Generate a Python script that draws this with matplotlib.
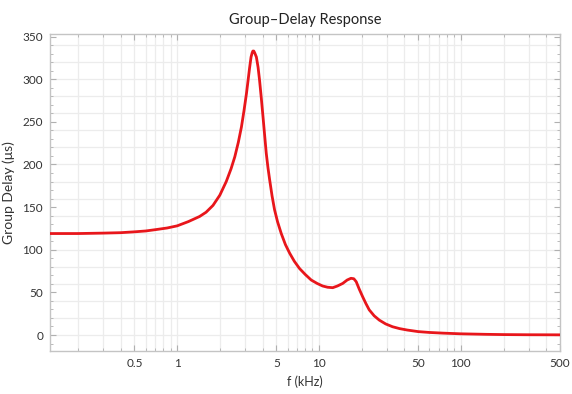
import matplotlib
matplotlib.use("Agg")
import matplotlib.pyplot as plt
from matplotlib.ticker import FixedLocator, NullFormatter, MultipleLocator

plt.rcParams['font.family'] = ['Lato', 'DejaVu Sans']

# Data (frequency in kHz, group delay in microseconds)
freq_khz = [0.127, 0.2, 0.3, 0.4, 0.5, 0.6, 0.7, 0.85, 1.0, 1.2, 1.44, 1.6, 1.79,
            2.0, 2.22, 2.4, 2.55, 2.7, 2.84, 2.96, 3.08, 3.16, 3.24, 3.32, 3.38,
            3.42, 3.47, 3.52, 3.62, 3.72, 3.81, 3.92, 4.03, 4.14, 4.25, 4.37,
            4.49, 4.67, 4.86, 5.1, 5.42, 5.8, 6.21, 6.7, 7.29, 8.0, 8.81, 9.7,
            10.6, 11.5, 12.5, 13.5, 14.7, 15.8, 16.8, 17.6, 18.3, 19.2, 20.3,
            21.4, 22.6, 24.5, 26.6, 29.5, 33.0, 37.0, 42.0, 50.0, 60.0, 75.0,
            100.0, 150.0, 200.0, 300.0, 500.0]
delay_us = [119, 119, 119.5, 120, 121, 122, 123.5, 125.5, 128, 133, 139, 144, 152,
            164, 180, 195, 209, 226, 244, 263, 283, 298, 313, 326, 331,
            333, 333, 331, 326, 314, 299, 278, 256, 234, 213, 196,
            182, 163, 147, 133, 119, 106, 96, 86.5, 78, 71, 64.5, 60.5,
            57.5, 56, 55.5, 57.5, 60.5, 64.5, 66.5, 66, 62.5, 54, 45,
            37, 29.5, 22.5, 17.5, 13, 9.7, 7.5, 5.8, 4, 3, 2.2,
            1.4, 0.8, 0.5, 0.3, 0.2]

x_major = [0.5, 1, 5, 10, 50, 100, 500]
x_major_labels = ["0.5", "1", "5", "10", "50", "100", "500"]
y_major = [0, 50, 100, 150, 200, 250, 300, 350]

fig = plt.figure(figsize=(5.72, 3.94), dpi=100)
ax = fig.add_axes([50/572, 1-350.7/394, (560-50)/572, (350.7-34)/394])

ax.plot(freq_khz, delay_us, color='#e8161b', lw=2.0, solid_capstyle='round',
        solid_joinstyle='round', zorder=3)

ax.set_xscale('log')
ax.set_xlim(0.127, 500)
ax.set_ylim(-18.4, 353)

# x ticks and grid
minor_x = []
for dec in [0.1, 1, 10, 100]:
    for m in range(1, 10):
        v = dec * m
        if 0.127 <= v <= 500:
            minor_x.append(v)
ax.xaxis.set_major_locator(FixedLocator(x_major))
ax.set_xticklabels(x_major_labels)
ax.xaxis.set_minor_locator(FixedLocator(minor_x))
ax.xaxis.set_minor_formatter(NullFormatter())

ax.yaxis.set_major_locator(FixedLocator(y_major))
ax.yaxis.set_minor_locator(MultipleLocator(10))

gridc = '#ececec'
for v in minor_x:
    ax.axvline(v, color=gridc, lw=0.9, zorder=0)
for v in range(0, 341, 20):
    ax.axhline(v, color=gridc, lw=0.9, zorder=0)

ax.tick_params(which='both', direction='in', top=True, right=True,
               color='#b0b0b0', labelsize=8.5, labelcolor='#333333', pad=5)
ax.tick_params(which='major', length=4, width=0.8)
ax.tick_params(which='minor', length=2, width=0.6)

for s in ax.spines.values():
    s.set_color('#c4c4c4')
    s.set_linewidth(1.0)

ax.set_title('Group\u2013Delay Response', fontsize=10.5, color='#222222', pad=7)
ax.set_xlabel('f (kHz)', fontsize=9, color='#333333', labelpad=5)
ax.set_ylabel('Group Delay (\u03bcs)', fontsize=10, color='#333333', labelpad=5)

fig.savefig('out.png', dpi=100)
